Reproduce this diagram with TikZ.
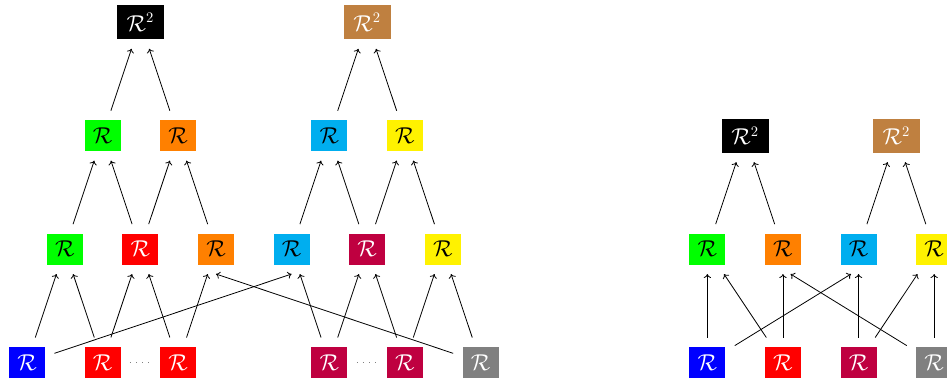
\documentclass[tikz,border=0pt]{standalone}
\usepackage{tikz}
\usetikzlibrary{arrows.meta}
\definecolor{pcyan}{RGB}{0,174,239}
\definecolor{pyellow}{RGB}{255,242,0}
\tikzset{
  rbox/.style={rectangle, minimum width=0.95cm, minimum height=0.82cm, inner sep=0pt, outer sep=0.25cm, font=\fontsize{16}{19}\selectfont},
  darkbox/.style={rbox, text=white},
  lightbox/.style={rbox, text=black},
  sqbox/.style={minimum width=1.24cm, minimum height=0.9cm},
  link/.style={-{To[width=5.5pt, length=3pt]}, semithick},
  gapdots/.style={gray, loosely dotted, semithick}
}
\begin{document}
\begin{tikzpicture}
  \useasboundingbox (-0.714,-0.41) rectangle (24.34,9.59);

  % left tree
  \node[darkbox, fill=blue] (a1) at (0,0) {$\mathcal{R}$};
  \node[darkbox, fill=red] (a2) at (2,0) {$\mathcal{R}$};
  \node[darkbox, fill=red] (a3) at (4,0) {$\mathcal{R}$};
  \node[darkbox, fill=purple] (a4) at (8,0) {$\mathcal{R}$};
  \node[darkbox, fill=purple] (a5) at (10,0) {$\mathcal{R}$};
  \node[darkbox, fill=gray] (a6) at (12,0) {$\mathcal{R}$};

  \node[lightbox, fill=green] (b1) at (1,3) {$\mathcal{R}$};
  \node[darkbox, fill=red] (b2) at (3,3) {$\mathcal{R}$};
  \node[lightbox, fill=orange] (b3) at (5,3) {$\mathcal{R}$};
  \node[lightbox, fill=pcyan] (b4) at (7,3) {$\mathcal{R}$};
  \node[darkbox, fill=purple] (b5) at (9,3) {$\mathcal{R}$};
  \node[lightbox, fill=pyellow] (b6) at (11,3) {$\mathcal{R}$};

  \node[lightbox, fill=green] (c1) at (2,6) {$\mathcal{R}$};
  \node[lightbox, fill=orange] (c2) at (4,6) {$\mathcal{R}$};
  \node[lightbox, fill=pcyan] (c3) at (8,6) {$\mathcal{R}$};
  \node[lightbox, fill=pyellow] (c4) at (10,6) {$\mathcal{R}$};

  \node[darkbox, sqbox, fill=black] (d1) at (3,9) {$\mathcal{R}^2$};
  \node[darkbox, sqbox, fill=brown] (d2) at (9,9) {$\mathcal{R}^2$};

  \draw[gapdots] (a2) -- (a3);
  \draw[gapdots] (a4) -- (a5);

  \draw[link] (a1) -- (b1);
  \draw[link] (a2) -- (b1);
  \draw[link] (a2) -- (b2);
  \draw[link] (a3) -- (b2);
  \draw[link] (a3) -- (b3);
  \draw[link] (a1) -- (b4.south);
  \draw[link] (a4) -- (b4);
  \draw[link] (a4) -- (b5);
  \draw[link] (a5) -- (b5);
  \draw[link] (a5) -- (b6);
  \draw[link] (a6) -- (b6);
  \draw[link] (a6) -- (b3.south);

  \draw[link] (b1) -- (c1);
  \draw[link] (b2) -- (c1);
  \draw[link] (b2) -- (c2);
  \draw[link] (b3) -- (c2);
  \draw[link] (b4) -- (c3);
  \draw[link] (b5) -- (c3);
  \draw[link] (b5) -- (c4);
  \draw[link] (b6) -- (c4);

  \draw[link] (c1) -- (d1);
  \draw[link] (c2) -- (d1);
  \draw[link] (c3) -- (d2);
  \draw[link] (c4) -- (d2);

  % right tree
  \node[darkbox, fill=blue] (e1) at (18,0) {$\mathcal{R}$};
  \node[darkbox, fill=red] (e2) at (20,0) {$\mathcal{R}$};
  \node[darkbox, fill=purple] (e3) at (22,0) {$\mathcal{R}$};
  \node[darkbox, fill=gray] (e4) at (24,0) {$\mathcal{R}$};

  \node[lightbox, fill=green] (f1) at (18,3) {$\mathcal{R}$};
  \node[lightbox, fill=orange] (f2) at (20,3) {$\mathcal{R}$};
  \node[lightbox, fill=pcyan] (f3) at (22,3) {$\mathcal{R}$};
  \node[lightbox, fill=pyellow] (f4) at (24,3) {$\mathcal{R}$};

  \node[darkbox, sqbox, fill=black] (g1) at (19,6) {$\mathcal{R}^2$};
  \node[darkbox, sqbox, fill=brown] (g2) at (23,6) {$\mathcal{R}^2$};

  \draw[link] (e1) -- (f1);
  \draw[link] (e2) -- (f1);
  \draw[link] (e2) -- (f2);
  \draw[link] (e1) -- ([xshift=-2mm]f3.south);
  \draw[link] (e3) -- (f3);
  \draw[link] (e3) -- (f4);
  \draw[link] (e4) -- (f4);
  \draw[link] (e4) -- ([xshift=2mm]f2.south);

  \draw[link] (f1) -- (g1);
  \draw[link] (f2) -- (g1);
  \draw[link] (f3) -- (g2);
  \draw[link] (f4) -- (g2);
\end{tikzpicture}
\end{document}
